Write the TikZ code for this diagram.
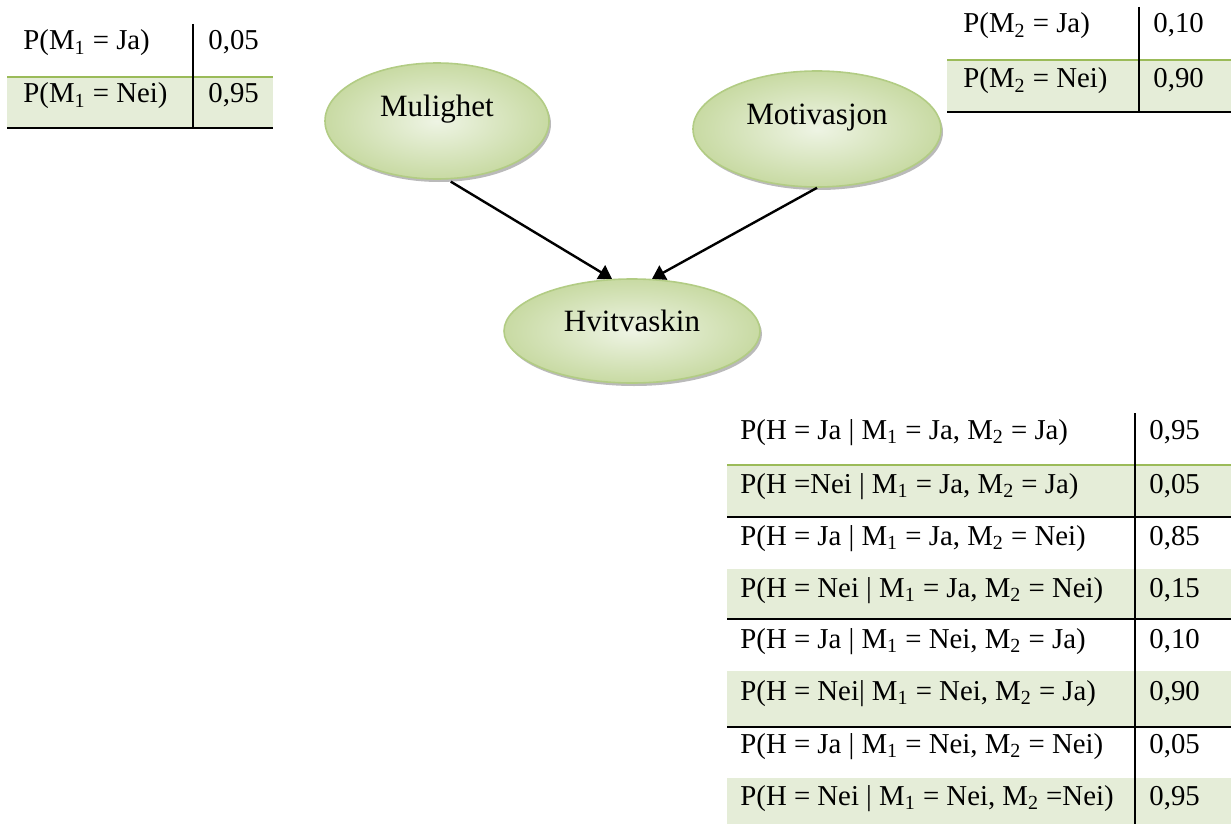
\documentclass[tikz,border=0pt]{standalone}
\usepackage{fontspec}
\setmainfont{Liberation Serif}
\usetikzlibrary{positioning, shapes.geometric, shadows, arrows.meta}

\definecolor{cellbg}{RGB}{229,237,216}
\definecolor{rulegreen}{RGB}{155,187,89}
\definecolor{ellin}{RGB}{238,244,228}
\definecolor{ellout}{RGB}{200,218,163}
\definecolor{elledge}{RGB}{178,204,132}

\newcommand{\Mone}{M\textsubscript{1}}
\newcommand{\Mtwo}{M\textsubscript{2}}

\begin{document}
\begin{tikzpicture}[x=0.5pt, y=-0.5pt, font=\fontsize{14.4}{16}\selectfont,
    cell/.style={anchor=base west, inner sep=0pt},
    var/.style={ellipse, draw=elledge, line width=0.8pt, inner color=ellin, outer color=ellout,
        drop shadow={shadow xshift=1pt, shadow yshift=-1.5pt, fill=black!45, opacity=0.6},
        text height=0pt, text depth=4pt, inner sep=0pt, font=\fontsize{15.5}{18}\selectfont},
    arr/.style={-{Triangle[length=6.5pt, width=8pt]}, line width=1.2pt}]
            \useasboundingbox (0,0) rectangle (1231,824);

            % table M1
            \fill[cellbg] (7,77) rectangle (273,128);
            \draw[rulegreen, line width=1.4pt] (7,77) -- (273,77);
            \draw[line width=1pt] (7,128) -- (273,128);
            \draw[line width=1pt] (193,24) -- (193,128);
            \node (m1ja) [cell] at (23,50) {P(\Mone{} = Ja)};
            \node (m1jap) [cell] at (208,50) {0,05};
            \node (m1nei) [cell] at (23,103) {P(\Mone{} = Nei)};
            \node (m1neip) [cell] at (208,103) {0,95};

            % table M2
            \fill[cellbg] (947,60) rectangle (1231,112);
            \draw[rulegreen, line width=1.4pt] (947,60) -- (1231,60);
            \draw[line width=1pt] (947,112) -- (1231,112);
            \draw[line width=1pt] (1139,7) -- (1139,112);
            \node (m2ja) [cell] at (963,33) {P(\Mtwo{} = Ja)};
            \node (m2jap) [cell] at (1153,33) {0,10};
            \node (m2nei) [cell] at (963,88) {P(\Mtwo{} = Nei)};
            \node (m2neip) [cell] at (1153,88) {0,90};

            % network
            \node (mul) [var, minimum width=112pt, minimum height=58pt] at (437,121) {Mulighet};
            \node (mot) [var, minimum width=124pt, minimum height=58pt] at (817,129) {Motivasjon};
            \node (hv) [var, text depth=0pt, minimum width=128pt, minimum height=52pt] at (632,331) {Hvitvaskin};

            \draw[arr, shorten <=2pt] (mul.-80) -- (hv.111);
            \draw[arr] (mot.south) -- (hv.69);

            % table H
            \fill[cellbg] (727,465) rectangle (1231,517);
            \fill[cellbg] (727,569) rectangle (1231,619);
            \fill[cellbg] (727,671) rectangle (1231,727);
            \fill[cellbg] (727,778) rectangle (1231,824);
            \draw[rulegreen, line width=1.4pt] (727,465) -- (1231,465);
            \draw[line width=1pt] (727,517) -- (1231,517);
            \draw[line width=1pt] (727,619) -- (1231,619);
            \draw[line width=1pt] (727,727) -- (1231,727);
            \draw[line width=1pt] (1135,413) -- (1135,824);

            \node (h1) [cell] at (740,439) {P(H = Ja | \Mone{} = Ja, \Mtwo{} = Ja)};
            \node (h1p) [cell] at (1149,439) {0,95};
            \node (h2) [cell] at (740,493) {P(H =Nei | \Mone{} = Ja, \Mtwo{} = Ja)};
            \node (h2p) [cell] at (1149,493) {0,05};
            \node (h3) [cell] at (740,545) {P(H = Ja | \Mone{} = Ja, \Mtwo{} = Nei)};
            \node (h3p) [cell] at (1149,545) {0,85};
            \node (h4) [cell] at (740,597) {P(H = Nei | \Mone{} = Ja, \Mtwo{} = Nei)};
            \node (h4p) [cell] at (1149,597) {0,15};
            \node (h5) [cell] at (740,648) {P(H = Ja | \Mone{} = Nei, \Mtwo{} = Ja)};
            \node (h5p) [cell] at (1149,648) {0,10};
            \node (h6) [cell] at (740,700) {P(H = Nei| \Mone{} = Nei, \Mtwo{} = Ja)};
            \node (h6p) [cell] at (1149,700) {0,90};
            \node (h7) [cell] at (740,753) {P(H = Ja | \Mone{} = Nei, \Mtwo{} = Nei)};
            \node (h7p) [cell] at (1149,753) {0,05};
            \node (h8) [cell] at (740,805) {P(H = Nei | \Mone{} = Nei, \Mtwo{} =Nei)};
            \node (h8p) [cell] at (1149,805) {0,95};

            \end{tikzpicture}
\end{document}
